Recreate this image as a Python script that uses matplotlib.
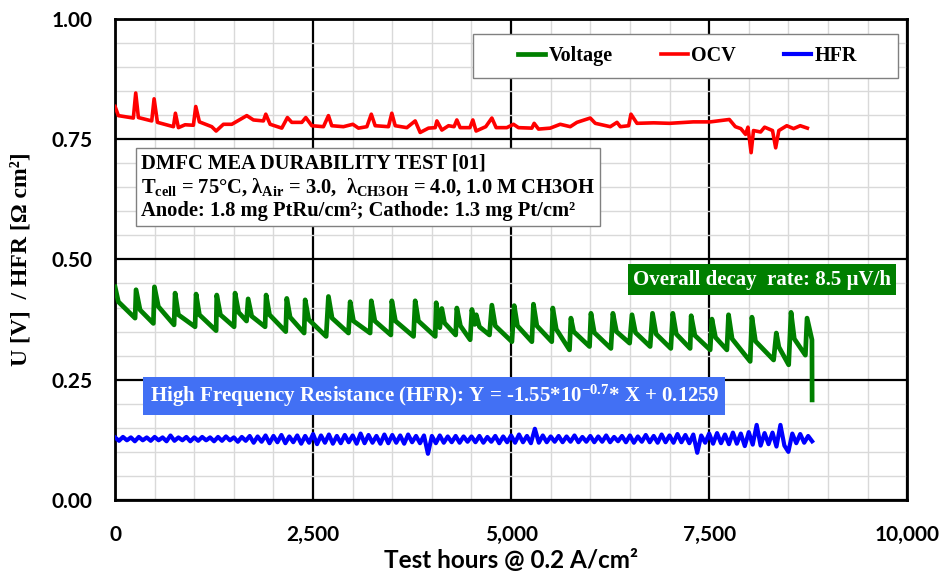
import matplotlib
matplotlib.use("Agg")
import matplotlib.pyplot as plt
from matplotlib.patches import Rectangle
from matplotlib.ticker import MultipleLocator, FuncFormatter
import numpy as np

# voltage trace (h, V) - peak / quick drop / trough for every refresh cycle
volt_x = [0, 42, 253, 265, 316, 484, 497, 547, 745, 758, 800, 1010,
          1023, 1065, 1276, 1284, 1330, 1503, 1515, 1560, 1660, 1680, 1725, 1894,
          1907, 1950, 2155, 2168, 2210, 2387, 2400, 2445, 2665, 2694, 2740, 2947,
          2968, 3010, 3220, 3235, 3280, 3482, 3494, 3540, 3768, 3789, 3830, 4042,
          4054, 4100, 4125, 4160, 4300, 4315, 4360, 4483, 4505, 4540, 4560, 4600, 4727,
          4757, 4800, 5010, 5039, 5080, 5262, 5282, 5325, 5513, 5526, 5570, 5737,
          5755, 5790, 5990, 6008, 6050, 6260, 6285, 6330, 6496, 6526, 6570, 6755,
          6785, 6830, 7016, 7041, 7085, 7260, 7273, 7320, 7513, 7535, 7580, 7724,
          7745, 7790, 8018, 8040, 8085, 8314, 8348, 8380, 8504, 8534, 8575, 8715,
          8736, 8798, 8800]
volt_y = [0.443, 0.412, 0.378, 0.437, 0.395, 0.367, 0.443, 0.402, 0.364, 0.430, 0.385, 0.360,
          0.428, 0.385, 0.352, 0.426, 0.385, 0.360, 0.430, 0.390, 0.372, 0.418, 0.382, 0.360,
          0.426, 0.385, 0.350, 0.419, 0.380, 0.347, 0.416, 0.375, 0.340, 0.423, 0.378, 0.347,
          0.412, 0.372, 0.347, 0.414, 0.372, 0.343, 0.414, 0.372, 0.340, 0.414, 0.372, 0.340,
          0.410, 0.358, 0.398, 0.368, 0.343, 0.399, 0.362, 0.333, 0.396, 0.365, 0.385, 0.360, 0.343,
          0.405, 0.362, 0.329, 0.404, 0.362, 0.329, 0.407, 0.362, 0.329, 0.399, 0.355, 0.312,
          0.378, 0.350, 0.319, 0.388, 0.348, 0.315, 0.388, 0.350, 0.326, 0.385, 0.348, 0.319,
          0.388, 0.345, 0.315, 0.388, 0.345, 0.315, 0.383, 0.342, 0.312, 0.376, 0.338, 0.312,
          0.385, 0.335, 0.288, 0.380, 0.330, 0.291, 0.347, 0.318, 0.281, 0.390, 0.335, 0.301,
          0.378, 0.333, 0.208]

# open circuit voltage
ocv_x = [0, 42, 231, 261, 295, 463, 493, 535, 737, 762, 800, 884, 989, 1019, 1065,
         1221, 1276, 1368, 1474, 1663, 1747, 1873, 1903, 1958, 2105, 2176, 2231, 2358,
         2408, 2484, 2631, 2694, 2736, 2883, 3002, 3073, 3179, 3235, 3284, 3452, 3494,
         3537, 3684, 3789, 3852, 3957, 4042, 4063, 4126, 4210, 4280, 4315, 4357, 4480,
         4517, 4558, 4680, 4757, 4811, 4946, 5030, 5093, 5262, 5291, 5346, 5494, 5620,
         5747, 5831, 5999, 6063, 6252, 6337, 6379, 6484, 6513, 6589, 6800, 7000, 7300,
         7515, 7755, 7831, 7900, 7960, 7990, 8030, 8060, 8150, 8200, 8300, 8340, 8380,
         8480, 8566, 8650, 8740]
ocv_y = [0.818, 0.799, 0.794, 0.846, 0.795, 0.788, 0.834, 0.785, 0.776, 0.804, 0.774, 0.780,
         0.779, 0.818, 0.786, 0.776, 0.767, 0.781, 0.781, 0.799, 0.790, 0.788, 0.802, 0.781,
         0.773, 0.795, 0.785, 0.785, 0.795, 0.778, 0.776, 0.799, 0.778, 0.776, 0.781, 0.773,
         0.776, 0.802, 0.778, 0.776, 0.804, 0.778, 0.774, 0.788, 0.764, 0.773, 0.774, 0.788,
         0.769, 0.778, 0.776, 0.790, 0.774, 0.774, 0.790, 0.767, 0.776, 0.794, 0.774, 0.774,
         0.781, 0.774, 0.773, 0.783, 0.771, 0.773, 0.781, 0.776, 0.785, 0.794, 0.783, 0.776,
         0.785, 0.776, 0.778, 0.802, 0.783, 0.784, 0.783, 0.786, 0.786, 0.791, 0.776, 0.772,
         0.760, 0.775, 0.722, 0.768, 0.765, 0.775, 0.768, 0.732, 0.768, 0.778, 0.772, 0.778,
         0.773]

# high frequency resistance, one reading every 50 h
hfr_x = np.arange(0, 8801, 50)
hfr_y = [0.130, 0.123, 0.131, 0.124, 0.130, 0.122, 0.131, 0.124, 0.130, 0.123,
         0.131, 0.124, 0.130, 0.122, 0.134, 0.123, 0.130, 0.124, 0.131, 0.122,
         0.130, 0.123, 0.131, 0.124, 0.130, 0.122, 0.131, 0.123, 0.132, 0.124,
         0.130, 0.121, 0.131, 0.123, 0.133, 0.119, 0.132, 0.121, 0.134, 0.118,
         0.133, 0.120, 0.135, 0.118, 0.132, 0.120, 0.134, 0.117, 0.133, 0.119,
         0.137, 0.116, 0.134, 0.119, 0.136, 0.117, 0.133, 0.118, 0.135, 0.120,
         0.134, 0.117, 0.138, 0.118, 0.135, 0.119, 0.133, 0.117, 0.136, 0.118,
         0.135, 0.119, 0.134, 0.117, 0.136, 0.120, 0.133, 0.118, 0.134, 0.096,
         0.133, 0.118, 0.134, 0.119, 0.132, 0.120, 0.133, 0.119, 0.132, 0.121,
         0.132, 0.120, 0.133, 0.119, 0.131, 0.121, 0.133, 0.118, 0.132, 0.120,
         0.134, 0.119, 0.136, 0.120, 0.133, 0.118, 0.148, 0.119, 0.134, 0.120,
         0.132, 0.121, 0.133, 0.120, 0.132, 0.121, 0.134, 0.120, 0.131, 0.121,
         0.133, 0.120, 0.132, 0.121, 0.134, 0.120, 0.131, 0.122, 0.133, 0.120,
         0.134, 0.119, 0.132, 0.121, 0.135, 0.120, 0.133, 0.119, 0.136, 0.120,
         0.134, 0.119, 0.137, 0.120, 0.135, 0.118, 0.136, 0.098, 0.134, 0.119,
         0.138, 0.117, 0.139, 0.118, 0.136, 0.116, 0.140, 0.117, 0.138, 0.112,
         0.141, 0.115, 0.156, 0.113, 0.139, 0.116, 0.140, 0.111, 0.156, 0.113,
         0.100, 0.138, 0.118, 0.137, 0.119, 0.133, 0.122]

serif = "Liberation Serif"
sans = "Lato"
plt.rcParams["mathtext.fontset"] = "custom"
plt.rcParams["mathtext.rm"] = serif + ":bold"
plt.rcParams["mathtext.it"] = serif + ":bold"
plt.rcParams["mathtext.bf"] = serif + ":bold"

fig = plt.figure(figsize=(9.43, 5.74), dpi=100)
ax = fig.add_axes([0.122, 0.129, 0.840, 0.838])

ax.plot(volt_x, volt_y, color="#008000", lw=3.4, label="Voltage", zorder=3)
ax.plot(ocv_x, ocv_y, color="#ff0000", lw=2.6, label="OCV", zorder=3)
ax.plot(hfr_x, hfr_y, color="#0000ff", lw=3.0, label="HFR", zorder=3)

ax.set_xlim(0, 10000)
ax.set_ylim(0, 1.0)
ax.xaxis.set_major_locator(MultipleLocator(2500))
ax.xaxis.set_minor_locator(MultipleLocator(500))
ax.yaxis.set_major_locator(MultipleLocator(0.25))
ax.yaxis.set_minor_locator(MultipleLocator(0.05))
ax.xaxis.set_major_formatter(FuncFormatter(lambda v, p: f"{v:,.0f}"))
ax.yaxis.set_major_formatter(FuncFormatter(lambda v, p: f"{v:.2f}"))
ax.grid(which="minor", color="#d9d9d9", lw=1.0, zorder=0)
ax.grid(which="major", color="black", lw=1.6, zorder=1)
ax.set_axisbelow(True)
ax.tick_params(which="both", length=0)
ax.tick_params(axis="x", pad=18)
ax.tick_params(axis="y", pad=16.5)
for lab in ax.get_xticklabels() + ax.get_yticklabels():
    lab.set_fontfamily(sans)
    lab.set_fontweight("bold")
    lab.set_fontsize(15)
for s in ax.spines.values():
    s.set_linewidth(2)
    s.set_color("black")

ax.set_xlabel("Test hours @ 0.2 A/cm²", family=sans, weight="bold", fontsize=17.5, labelpad=3)
ax.set_ylabel("U [V]  / HFR [Ω cm²]", family=serif, weight="bold", fontsize=17, labelpad=14)

# legend frame drawn separately so the padding matches the original box
ax.add_patch(Rectangle((0.452, 0.877), 0.537, 0.092, transform=ax.transAxes,
                       fc="white", ec="#808080", lw=1.0, zorder=5))
leg = ax.legend(loc="center", bbox_to_anchor=(0.7225, 0.923), ncol=3, frameon=False,
                prop={"family": serif, "weight": "bold", "size": 14.5},
                handlelength=1.35, handletextpad=0.15, columnspacing=2.4,
                borderaxespad=0)
leg.set_zorder(6)

info = ("DMFC MEA DURABILITY TEST [01]\n"
        "T$_{\\mathrm{cell}}$ = 75°C, λ$_{\\mathrm{Air}}$ = 3.0,  λ$_{\\mathrm{CH3OH}}$ = 4.0, 1.0 M CH3OH\n"
        "Anode: 1.8 mg PtRu/cm²; Cathode: 1.3 mg Pt/cm²")
ax.text(325, 0.721, info, family=serif, weight="bold", fontsize=14.8, va="top", ha="left",
        linespacing=1.2, zorder=6,
        bbox=dict(boxstyle="square,pad=0.25", fc="white", ec="#808080", lw=1.0))

ax.text(8170, 0.458, "Overall decay  rate: 8.5 µV/h", family=serif, weight="bold",
        fontsize=15, color="white", ha="center", va="center", zorder=6,
        bbox=dict(boxstyle="square,pad=0.25", fc="#007f00", ec="none"))

ax.text(4030, 0.216, "High Frequency Resistance (HFR): Y = -1.55*10$^{\\mathrm{-0.7}}$* X + 0.1259",
        family=serif, weight="bold", fontsize=15, color="white", ha="center", va="center",
        zorder=6, bbox=dict(boxstyle="square,pad=0.3", fc="#4270f4", ec="none"))

fig.savefig("out.png", dpi=100)
